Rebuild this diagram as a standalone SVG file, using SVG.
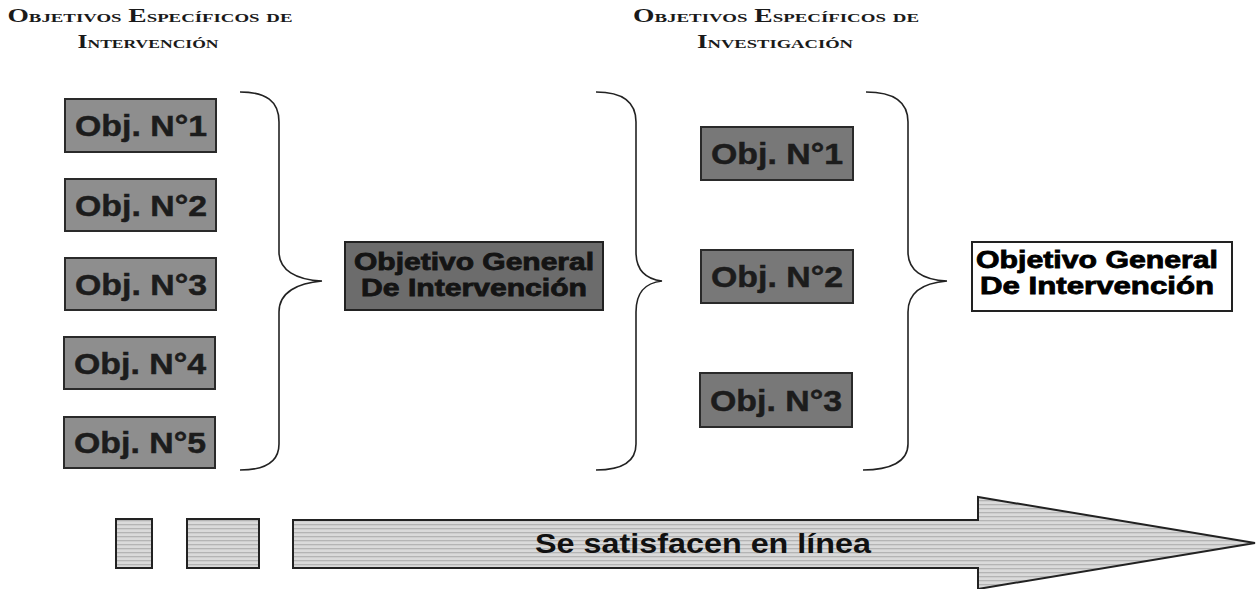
<svg xmlns="http://www.w3.org/2000/svg" width="1260" height="589" viewBox="0 0 1260 589">
<style>
.hdr{font-family:"Liberation Serif",serif;font-weight:bold;font-variant:small-caps;font-size:19px;fill:#1a1a1a}
.obj rect{fill:#8e8e8e;stroke:#2a2a2a;stroke-width:2}
.obj2 rect{fill:#787878;stroke:#2a2a2a;stroke-width:2}
.objt{font-family:"Liberation Sans",Arial,sans-serif;font-weight:bold;font-size:30px;fill:#1c1c1c;text-anchor:middle;stroke:#1c1c1c;stroke-width:0.5}
.gen{font-family:"Liberation Sans",Arial,sans-serif;font-weight:bold;font-size:23px;text-anchor:middle;stroke-width:0.8}
.brace{fill:none;stroke:#222;stroke-width:1.6}
</style>
<defs>
<pattern id="stripes" width="8" height="4" patternUnits="userSpaceOnUse">
<rect width="8" height="4" fill="#dadada"/>
<rect y="0" width="8" height="1.3" fill="#b4b4b4"/>
</pattern>
</defs>
<rect width="1260" height="589" fill="#ffffff"/>

<g id="headers">
<text class="hdr" x="150" y="22" text-anchor="middle" textLength="285" lengthAdjust="spacingAndGlyphs">Objetivos Específicos de</text>
<text class="hdr" x="148" y="48" text-anchor="middle" textLength="141" lengthAdjust="spacingAndGlyphs">Intervención</text>
<text class="hdr" x="776" y="22" text-anchor="middle" textLength="286" lengthAdjust="spacingAndGlyphs">Objetivos Específicos de</text>
<text class="hdr" x="775" y="48" text-anchor="middle" textLength="156" lengthAdjust="spacingAndGlyphs">Investigación</text>
</g>

<g id="int1" class="obj"><rect x="65" y="99" width="151" height="53"/><text class="objt" x="141" y="136" textLength="132" lengthAdjust="spacingAndGlyphs">Obj. N°1</text></g>
<g id="int2" class="obj"><rect x="65" y="179" width="151" height="52"/><text class="objt" x="141" y="216" textLength="132" lengthAdjust="spacingAndGlyphs">Obj. N°2</text></g>
<g id="int3" class="obj"><rect x="65" y="258" width="151" height="52"/><text class="objt" x="141" y="295" textLength="132" lengthAdjust="spacingAndGlyphs">Obj. N°3</text></g>
<g id="int4" class="obj"><rect x="64" y="337" width="151" height="52"/><text class="objt" x="140" y="374" textLength="132" lengthAdjust="spacingAndGlyphs">Obj. N°4</text></g>
<g id="int5" class="obj"><rect x="64" y="417" width="151" height="51"/><text class="objt" x="140" y="453" textLength="132" lengthAdjust="spacingAndGlyphs">Obj. N°5</text></g>

<g id="genInt1">
<rect x="345" y="242" width="258" height="68" fill="#6c6c6c" stroke="#222" stroke-width="2"/>
<text class="gen" x="474" y="270" fill="#141414" stroke="#141414" textLength="240" lengthAdjust="spacingAndGlyphs">Objetivo General</text>
<text class="gen" x="474" y="296" fill="#141414" stroke="#141414" textLength="226" lengthAdjust="spacingAndGlyphs">De Intervención</text>
</g>

<g id="inv1" class="obj2"><rect x="701" y="127" width="152" height="53"/><text class="objt" x="777" y="164" textLength="132" lengthAdjust="spacingAndGlyphs">Obj. N°1</text></g>
<g id="inv2" class="obj2"><rect x="701" y="250" width="152" height="53"/><text class="objt" x="777" y="287" textLength="132" lengthAdjust="spacingAndGlyphs">Obj. N°2</text></g>
<g id="inv3" class="obj2"><rect x="700" y="373" width="152" height="54"/><text class="objt" x="776" y="411" textLength="132" lengthAdjust="spacingAndGlyphs">Obj. N°3</text></g>

<g id="genInt2">
<rect x="972" y="242" width="260" height="69" fill="#ffffff" stroke="#222" stroke-width="2"/>
<text class="gen" x="1097" y="268" fill="#000" stroke="#000" textLength="242" lengthAdjust="spacingAndGlyphs">Objetivo General</text>
<text class="gen" x="1097" y="294" fill="#000" stroke="#000" textLength="234" lengthAdjust="spacingAndGlyphs">De Intervención</text>
</g>

<g id="connectors">
<path class="brace" d="M240,92 C266,92 279,101 279,122 L279,252 C279,270 296,280 322,281 C298,283 279,292 279,312 L279,444 C279,462 266,470 240,470"/>
<path class="brace" d="M596,92 C622,92 636,101 636,122 L636,252 C636,270 645,279 662,281 C645,283 636,292 636,312 L636,444 C636,462 622,470 596,470"/>
<path class="brace" d="M866,92 C893,92 908,101 908,122 L908,252 C908,270 922,280 947,281 C922,283 908,292 908,312 L908,444 C908,462 890,470 863,470"/>
</g>

<g id="legend1"><rect x="116" y="519" width="36" height="49" fill="url(#stripes)" stroke="#222" stroke-width="2"/></g>
<g id="legend2"><rect x="187" y="519" width="72" height="49" fill="url(#stripes)" stroke="#222" stroke-width="2"/></g>

<g id="timeline">
<path d="M293,520 L978,520 L978,497 L1255,543 L978,589 L978,568 L293,568 Z" fill="url(#stripes)" stroke="#222" stroke-width="2"/>
<text x="703" y="553" font-family="Liberation Sans, Arial, sans-serif" font-weight="bold" font-size="27" fill="#111" text-anchor="middle" textLength="336" lengthAdjust="spacingAndGlyphs">Se satisfacen en línea</text>
</g>
</svg>
